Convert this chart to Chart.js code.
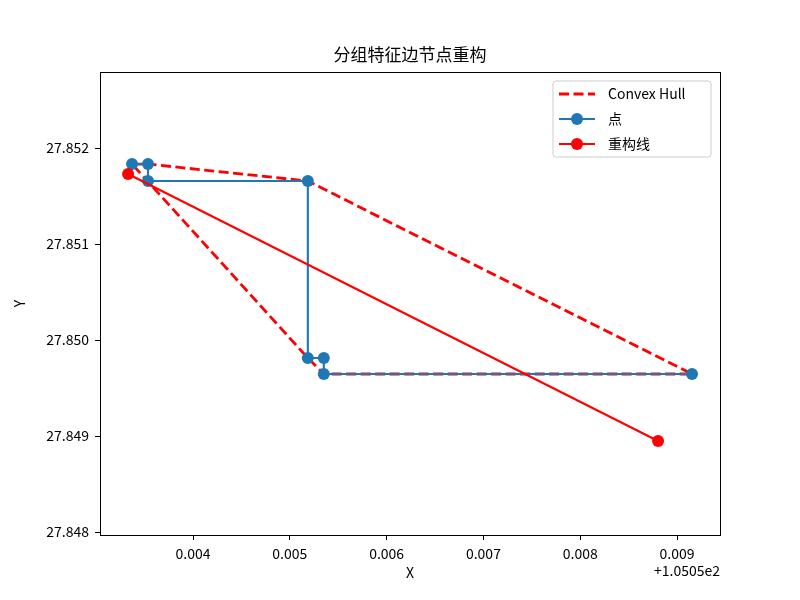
<!DOCTYPE html>
<html>
<head>
<meta charset="utf-8">
<script src="https://cdn.jsdelivr.net/npm/chart.js@4/dist/chart.umd.min.js"></script>
<style>
  body { margin: 0; background: #fff; }
  #wrap { width: 800px; height: 600px; }
</style>
</head>
<body>
<div id="wrap"><canvas id="c" width="800" height="600"></canvas></div>
<script>
const FONT = '"Noto Sans CJK SC", "DejaVu Sans", sans-serif';
const X_OFFSET = 105.05;

// blue staircase of points (x, y)
const pointX = [105.053370, 105.053535, 105.053535, 105.055186, 105.055186, 105.055351, 105.055351, 105.059155];
const pointY = [27.851833, 27.851833, 27.851656, 27.851656, 27.849813, 27.849813, 27.849646, 27.849646];

// convex hull vertices (closed)
const hullX = [105.053370, 105.053535, 105.055186, 105.059155, 105.055351, 105.055186, 105.053370];
const hullY = [27.851833, 27.851833, 27.851656, 27.849646, 27.849646, 27.849813, 27.851833];

// reconstruction line
const reconX = [105.053329, 105.058804];
const reconY = [27.851729, 27.848948];

const xTickVals = [0.004, 0.005, 0.006, 0.007, 0.008, 0.009];
const yTickVals = [27.848, 27.849, 27.850, 27.851, 27.852];

const toPts = (xs, ys) => xs.map((x, i) => ({ x: x, y: ys[i] }));

const legendItems = [
  { label: 'Convex Hull', color: '#ff0000', dash: [10, 4.5], width: 2.8, marker: false },
  { label: '点', color: '#1f77b4', dash: [], width: 2.1, marker: true },
  { label: '重构线', color: '#ff0000', dash: [], width: 2.1, marker: true }
];

const decor = {
  id: 'decor',
  afterDraw(chart) {
    const ctx = chart.ctx;
    const a = chart.chartArea;
    ctx.save();
    // frame (top + right spines)
    ctx.strokeStyle = '#000';
    ctx.lineWidth = 1;
    ctx.strokeRect(a.left + 0.5, a.top + 0.5, a.right - a.left, a.bottom - a.top);

    ctx.fillStyle = '#000';
    // title
    ctx.font = '17px ' + FONT;
    ctx.textAlign = 'center';
    ctx.textBaseline = 'middle';
    ctx.fillText('分组特征边节点重构', (a.left + a.right) / 2, 55);
    // axis titles
    ctx.font = '14px ' + FONT;
    ctx.fillText('X', (a.left + a.right) / 2, 573);
    ctx.save();
    ctx.translate(20, (a.top + a.bottom) / 2);
    ctx.rotate(-Math.PI / 2);
    ctx.fillText('Y', 0, 0);
    ctx.restore();
    // offset text
    ctx.textAlign = 'right';
    ctx.fillText('+1.0505e2', a.right, 571);

    // legend
    const bx = 553, by = 81, bw = 158, bh = 76;
    ctx.beginPath();
    ctx.roundRect(bx, by, bw, bh, 3);
    ctx.fillStyle = 'rgba(255,255,255,0.8)';
    ctx.fill();
    ctx.strokeStyle = '#cccccc';
    ctx.lineWidth = 1;
    ctx.stroke();
    const rows = [94, 119, 144];
    legendItems.forEach((it, i) => {
      const y = rows[i];
      ctx.beginPath();
      ctx.setLineDash(it.dash);
      ctx.strokeStyle = it.color;
      ctx.lineWidth = it.width;
      ctx.moveTo(559, y);
      ctx.lineTo(595, y);
      ctx.stroke();
      ctx.setLineDash([]);
      if (it.marker) {
        ctx.beginPath();
        ctx.fillStyle = it.color;
        ctx.arc(577, y, 6, 0, Math.PI * 2);
        ctx.fill();
      }
      ctx.fillStyle = '#000';
      ctx.font = '14px ' + FONT;
      ctx.textAlign = 'left';
      ctx.textBaseline = 'middle';
      ctx.fillText(it.label, 608, y);
    });
    ctx.restore();
  }
};

new Chart(document.getElementById('c'), {
  type: 'scatter',
  data: {
    datasets: [
      {
        label: 'Convex Hull',
        data: toPts(hullX, hullY),
        showLine: true,
        borderColor: '#ff0000',
        borderWidth: 2.8,
        borderDash: [10, 4.5],
        pointRadius: 0,
        fill: false,
        order: 3
      },
      {
        label: '点',
        data: toPts(pointX, pointY),
        showLine: true,
        borderColor: '#1f77b4',
        backgroundColor: '#1f77b4',
        borderWidth: 2.1,
        pointRadius: 6,
        pointBorderWidth: 0,
        order: 2
      },
      {
        label: '重构线',
        data: toPts(reconX, reconY),
        showLine: true,
        borderColor: '#ff0000',
        backgroundColor: '#ff0000',
        borderWidth: 2.1,
        pointRadius: 6,
        pointBorderWidth: 0,
        order: 1
      }
    ]
  },
  options: {
    responsive: false,
    animation: false,
    layout: { padding: { top: 72, right: 80, bottom: 0, left: 0 } },
    plugins: {
      legend: { display: false },
      title: { display: false },
      tooltip: { enabled: false }
    },
    scales: {
      x: {
        type: 'linear',
        min: 105.053039,
        max: 105.059444,
        afterFit(scale) { scale.height = 65; },
        afterBuildTicks(scale) { scale.ticks = xTickVals.map(v => ({ value: X_OFFSET + v })); },
        grid: { drawOnChartArea: false, tickLength: 5, tickColor: '#000', tickWidth: 1 },
        border: { color: '#000', width: 1 },
        ticks: {
          color: '#000',
          padding: 5,
          font: { family: FONT, size: 14 },
          callback: v => (v - X_OFFSET).toFixed(3)
        }
      },
      y: {
        type: 'linear',
        min: 27.847969,
        max: 27.852792,
        afterFit(scale) { scale.width = 100; },
        afterBuildTicks(scale) { scale.ticks = yTickVals.map(v => ({ value: v })); },
        grid: { drawOnChartArea: false, tickLength: 5, tickColor: '#000', tickWidth: 1 },
        border: { color: '#000', width: 1 },
        ticks: {
          color: '#000',
          padding: 6,
          font: { family: FONT, size: 14 },
          callback: v => v.toFixed(3)
        }
      }
    }
  },
  plugins: [decor]
});
</script>
</body>
</html>
